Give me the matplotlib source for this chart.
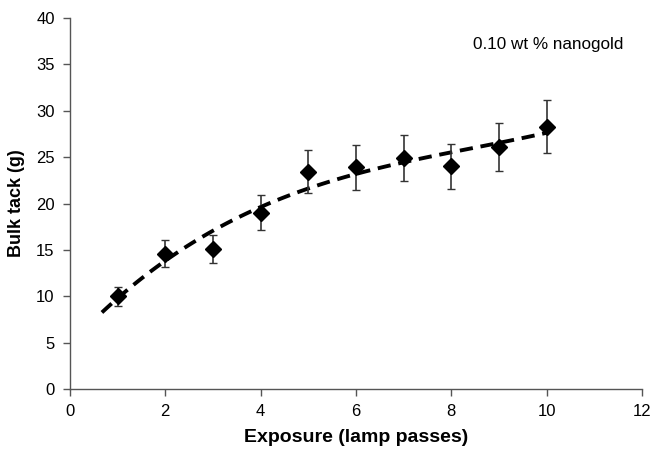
import matplotlib
matplotlib.use("Agg")
from matplotlib import pyplot as plt
import numpy as np

plt.rcParams['font.family'] = ['Liberation Sans', 'DejaVu Sans']

# values
exposure = [1, 2, 3, 4, 5, 6, 7, 8, 9, 10]
tack = [10.0, 14.6, 15.1, 19.0, 23.4, 23.9, 24.9, 24.0, 26.1, 28.3]
err_low = [1.0, 1.4, 1.5, 1.9, 2.3, 2.4, 2.5, 2.4, 2.6, 2.8]
err_high = [1.0, 1.5, 1.5, 1.9, 2.4, 2.4, 2.5, 2.4, 2.6, 2.9]
label_text = "0.10 wt % nanogold"

fig = plt.figure(figsize=(6.51, 4.49), dpi=100)
ax = fig.add_axes([0.1075, 0.1336, 0.8785, 0.826])

# trendline (polynomial fit, extended back a little)
coef = np.polyfit(exposure, tack, 3)
xt = np.linspace(0.67, 10, 100)
ax.plot(xt, np.polyval(coef, xt), color="black", lw=2.8, ls=(0, (3.4, 2.0)), zorder=2)

ax.errorbar(exposure, tack, yerr=[err_low, err_high], fmt="D", color="black",
            ms=8.5, ecolor="#333333", elinewidth=1.2, capsize=3, capthick=1.0, zorder=3)

ax.set_xlim(0, 12)
ax.set_ylim(0, 40)
ax.set_xticks(range(0, 13, 2))
ax.set_yticks(range(0, 41, 5))
for s in ["top", "right"]:
    ax.spines[s].set_visible(False)
for s in ["left", "bottom"]:
    ax.spines[s].set_color("#555555")
    ax.spines[s].set_linewidth(1.0)
ax.tick_params(direction="out", length=5, width=1.0, color="#555555", labelsize=12, pad=6)

ax.set_xlabel("Exposure (lamp passes)", fontsize=14, fontweight="bold", labelpad=7)
ax.set_ylabel("Bulk tack (g)", fontsize=13, fontweight="bold", labelpad=8)
ax.text(10.03, 37.2, label_text, fontsize=12.3, ha="center", va="center")

fig.savefig("out.png", dpi=100)
